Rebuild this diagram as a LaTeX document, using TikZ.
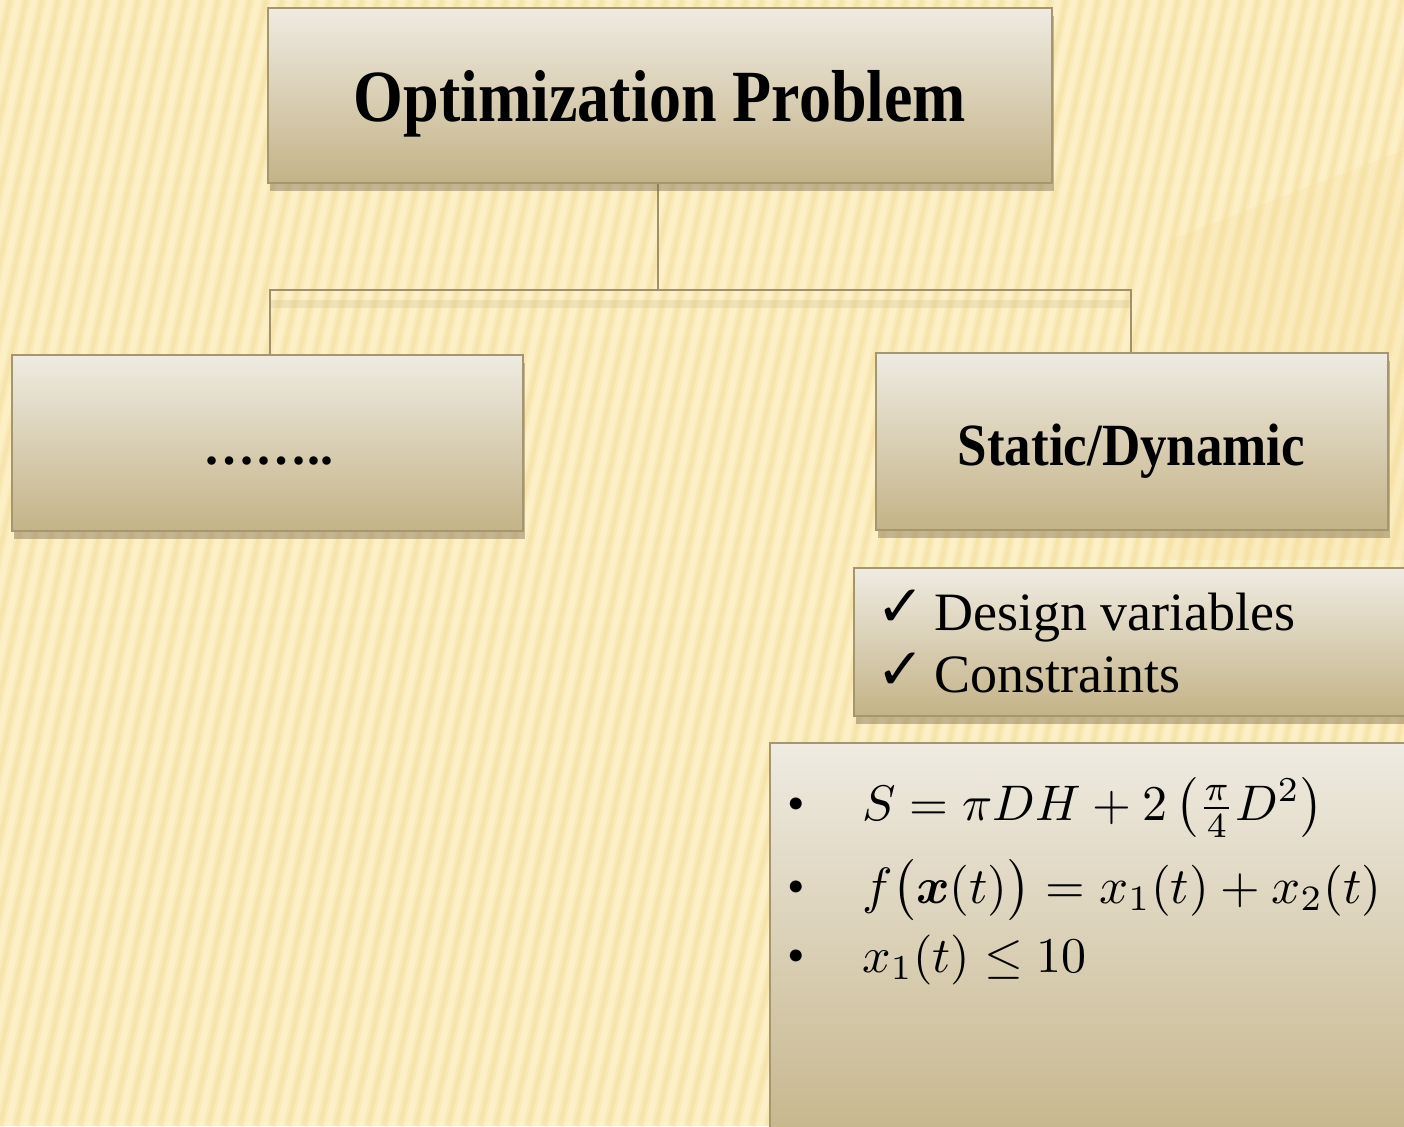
\documentclass[tikz,border=0pt]{standalone}
\usepackage{amsmath,amssymb,bm}
\usepackage{graphicx}
\usepackage{fontspec}
\setmainfont{Liberation Serif}
\newfontfamily\symfont{DejaVu Sans}
\usetikzlibrary{shadows}
\definecolor{bgA}{HTML}{FDF0C6}
\definecolor{bgB}{HTML}{F2D994}
\definecolor{boxTop}{HTML}{EFEBE2}
\definecolor{boxBot}{HTML}{C4B387}
\definecolor{boxLine}{HTML}{A4966F}
\definecolor{shadowc}{HTML}{7D6E4F}
\definecolor{connc}{HTML}{A0916B}
\tikzset{
  box/.style={rectangle, draw=boxLine, line width=2pt, top color=boxTop, bottom color=boxBot,
    drop shadow={shadow xshift=2pt, shadow yshift=-8pt, opacity=.45, fill=shadowc},
    inner sep=0pt},
  conn/.style={draw=connc, line width=2.2pt},
  connshadow/.style={draw=shadowc, line width=8pt, opacity=.1},
  stripewide/.style={draw=bgB, line width=9pt, opacity=.25},
  stripecore/.style={draw=bgB, line width=4pt, opacity=.35},
  lbl/.style={inner sep=0pt, text=black},
  mathlbl/.style={lbl, anchor=base west}
}
\begin{document}
\begin{tikzpicture}[x=1pt,y=-1pt]
\useasboundingbox (0,0) rectangle (1404,1126);
\clip (0,0) rectangle (1404,1126);
% background
\fill[bgA] (0,0) rectangle (1404,1126);
\foreach \i in {-20,...,92} {
  \draw[stripewide] (\i*16,1126) -- (\i*16+250,0);
  \draw[stripecore] (\i*16,1126) -- (\i*16+250,0);
}
\fill[bgB, opacity=.18] (1170,240) -- (1404,150) -- (1404,560) -- (1170,560) -- cycle;

% junction of the tree connectors
\coordinate (j) at (658,290);
\coordinate (topfoot) at (658,183);
\coordinate (lefthead) at (270,355);
\coordinate (righthead) at (1131,353);

% connector shadow and connectors
\draw[connshadow] ([yshift=-14pt]lefthead |- j) -- ([yshift=-14pt]righthead |- j);
\draw[conn] (topfoot) -- (j);
\draw[conn] (lefthead) |- (j) -| (righthead);

% boxes
\node[box, minimum width=784pt, minimum height=175pt] (top) at (660,95.5) {};
\node[box, minimum width=511pt, minimum height=176pt] (left) at (267.5,443) {};
\node[box, minimum width=512pt, minimum height=177pt] (right) at (1132,441.5) {};
\node[box, minimum width=600pt, minimum height=148pt] (check) at (1154,642) {};
\node[box, minimum width=680pt, minimum height=420pt] (eqs) at (1110,953) {};

% texts
\node[lbl, anchor=base] (toptxt) at (660,122)
  {\fontsize{64}{70}\selectfont\bfseries\scalebox{1}[1.15]{Optimization Problem}};
\node[lbl, anchor=base] (lefttxt) at (268,464)
  {\fontsize{52}{60}\selectfont\bfseries ……..};
\node[lbl, anchor=base] (righttxt) at (1131.5,465)
  {\fontsize{53}{60}\selectfont\bfseries\scalebox{1}[1.13]{Static/Dynamic}};

\node[lbl, anchor=base west] (c1) at (876,626) {\fontsize{58}{60}\selectfont\symfont ✓};
\node[lbl, anchor=base west] (t1) at (934,630) {\fontsize{54}{60}\selectfont Design variables};
\node[lbl, anchor=base west] (c2) at (876,689) {\fontsize{58}{60}\selectfont\symfont ✓};
\node[lbl, anchor=base west] (t2) at (934,692) {\fontsize{54}{60}\selectfont Constraints};

\node[lbl, anchor=base west] (b1) at (787,820) {\fontsize{50}{60}\selectfont •};
\node[mathlbl] (m1) at (862,820)
  {\scalebox{5}{$S=\pi DH+2\left(\frac{\pi}{4}D^2\right)$}};
\node[lbl, anchor=base west] (b2) at (787,903) {\fontsize{50}{60}\selectfont •};
\node[mathlbl] (m2) at (862,903)
  {\scalebox{5.1}{$f\bigl(\boldsymbol{x}(t)\bigr)=x_1(t)+x_2(t)$}};
\node[lbl, anchor=base west] (b3) at (787,972) {\fontsize{50}{60}\selectfont •};
\node[mathlbl] (m3) at (862,972)
  {\scalebox{5}{$x_1(t)\le 10$}};
\end{tikzpicture}
\end{document}
